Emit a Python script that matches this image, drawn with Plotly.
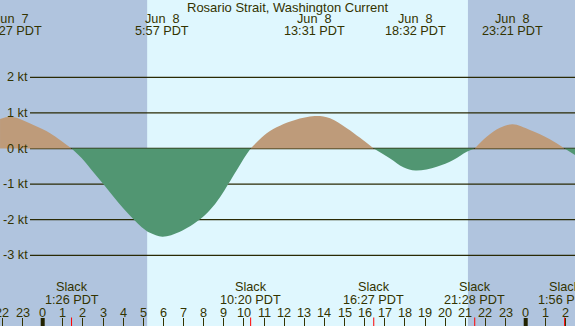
import plotly.graph_objects as go

# ---------------- data (hours relative to Jun 8 00:00 PDT) ----------------
title_text = "Rosario Strait, Washington Current"

t_hours = [-2.12, -1.55, -0.46, 0.37, 0.86, 1.433,
           2.02, 2.51, 3.01, 3.51, 4.00, 4.50, 4.92, 5.33, 5.95,
           6.82, 7.82, 8.31, 8.81, 9.22, 9.64, 9.97, 10.333,
           11.13, 11.79, 12.54, 13.517, 14.28, 15.11, 15.77, 16.45,
           17.26, 17.92, 18.533, 19.58, 20.40, 21.07, 21.467,
           22.06, 22.72, 23.35, 24.21, 25.20, 25.933, 26.45]
speed_kt = [0.83, 0.89, 0.66, 0.43, 0.24, 0.0,
            -0.32, -0.66, -1.00, -1.35, -1.68, -1.98, -2.21, -2.37, -2.48,
            -2.34, -1.99, -1.73, -1.37, -1.00, -0.61, -0.30, 0.0,
            0.43, 0.64, 0.80, 0.91, 0.85, 0.57, 0.30, 0.0,
            -0.28, -0.53, -0.62, -0.51, -0.32, -0.09, 0.0,
            0.33, 0.58, 0.68, 0.52, 0.26, 0.0, -0.18]

event_hours = [-1.55, 5.95, 13.517, 18.533, 23.35]
event_dates = ["Jun \u00a07", "Jun \u00a08", "Jun \u00a08", "Jun \u00a08", "Jun \u00a08"]
event_times = ["22:27 PDT", "5:57 PDT", "13:31 PDT", "18:32 PDT", "23:21 PDT"]

slack_hours = [1.433, 10.333, 16.45, 21.467, 25.933]
slack_times = ["1:26 PDT", "10:20 PDT", "16:27 PDT", "21:28 PDT", "1:56 PDT"]

night_start = [-4.0, 21.13]
night_end = [5.19, 30.0]

grid_levels = [2, 1, 0, -1, -2, -3]
grid_labels = ["2 kt", "1 kt", "0 kt", "-1 kt", "-2 kt", "-3 kt"]

hour_ticks = list(range(-2, 27))
hour_labels = [str(h % 24) for h in hour_ticks]
midnight_hours = [0, 24]

# ---------------- styling ----------------
W, H = 575, 326
DAY = "#DFF7FE"
NIGHT = "#B0C4DE"
FLOOD = "#BE9B7A"
EBB = "#519672"
TXT = "#333300"
GRID = "#2A2A05"
FONT = "Liberation Sans, Arial, sans-serif"
FS = 12.7


def py(px):
    return 1 - px / H


pos = [v if v >= 0 else None for v in speed_kt]
neg = [v if v <= 0 else None for v in speed_kt]

fig = go.Figure()
fig.add_trace(go.Scatter(x=t_hours, y=pos, mode="lines", fill="tozeroy",
                         fillcolor=FLOOD,
                         line=dict(width=0, shape="spline", smoothing=1.0, color=FLOOD),
                         connectgaps=False, hoverinfo="skip", showlegend=False))
fig.add_trace(go.Scatter(x=t_hours, y=neg, mode="lines", fill="tozeroy",
                         fillcolor=EBB,
                         line=dict(width=0, shape="spline", smoothing=1.0, color=EBB),
                         connectgaps=False, hoverinfo="skip", showlegend=False))

shapes = []
for a, b in zip(night_start, night_end):
    shapes.append(dict(type="rect", xref="x", yref="paper", x0=a, x1=b, y0=0, y1=1,
                       fillcolor=NIGHT, line=dict(width=0), layer="below"))
for g in grid_levels:
    shapes.append(dict(type="line", xref="paper", yref="y", x0=30 / W, x1=1, y0=g, y1=g,
                       line=dict(color=GRID, width=1.3), layer="below"))
for m in midnight_hours:
    shapes.append(dict(type="line", xref="x", yref="paper", x0=m, x1=m, y0=0, y1=8 / H,
                       line=dict(color="#222200", width=4), layer="above"))
for s in slack_hours:
    shapes.append(dict(type="line", xref="x", yref="paper", x0=s, x1=s, y0=0, y1=8.5 / H,
                       line=dict(color="#FF0000", width=1), layer="above"))

ann = []
ann.append(dict(text=title_text, xref="paper", yref="paper", x=0.5, y=py(8),
                xanchor="center", yanchor="middle", showarrow=False,
                font=dict(size=13)))
for h, d, t in zip(event_hours, event_dates, event_times):
    ann.append(dict(text=d, xref="x", yref="paper", x=h, y=py(19.5),
                    xanchor="center", yanchor="middle", showarrow=False))
    ann.append(dict(text=t, xref="x", yref="paper", x=h, y=py(31.3),
                    xanchor="center", yanchor="middle", showarrow=False))
for h, t in zip(slack_hours, slack_times):
    ann.append(dict(text="Slack", xref="x", yref="paper", x=h, y=py(287),
                    xanchor="center", yanchor="middle", showarrow=False))
    ann.append(dict(text=t, xref="x", yref="paper", x=h, y=py(300),
                    xanchor="center", yanchor="middle", showarrow=False))
for h, lab in zip(hour_ticks, hour_labels):
    ann.append(dict(text=lab, xref="x", yref="paper", x=h, y=py(312.5),
                    xanchor="center", yanchor="middle", showarrow=False))
for g, lab in zip(grid_levels, grid_labels):
    ann.append(dict(text=lab, xref="paper", yref="y", x=29 / W, y=g,
                    xanchor="right", yanchor="middle", showarrow=False))

x_left = -42.7 / 20.125
x_right = (W - 42.7) / 20.125
y_top = 148.5 / 35.6
y_bot = -(H - 148.5) / 35.6

fig.update_layout(
    width=W, height=H, margin=dict(l=0, r=0, t=0, b=0),
    paper_bgcolor=NIGHT, plot_bgcolor=DAY,
    font=dict(family=FONT, size=FS, color=TXT),
    shapes=shapes, annotations=ann, showlegend=False,
    xaxis=dict(range=[x_left, x_right], showgrid=False, zeroline=False, showline=False,
               tickvals=hour_ticks, ticks="inside", ticklen=8, tickwidth=1,
               tickcolor="#333300", showticklabels=False, fixedrange=True),
    yaxis=dict(range=[y_bot, y_top], showgrid=False, zeroline=False, showline=False,
               showticklabels=False, ticks="", fixedrange=True),
)
for a in fig.layout.annotations:
    a.update(borderpad=0)

fig.write_html("out.html")
